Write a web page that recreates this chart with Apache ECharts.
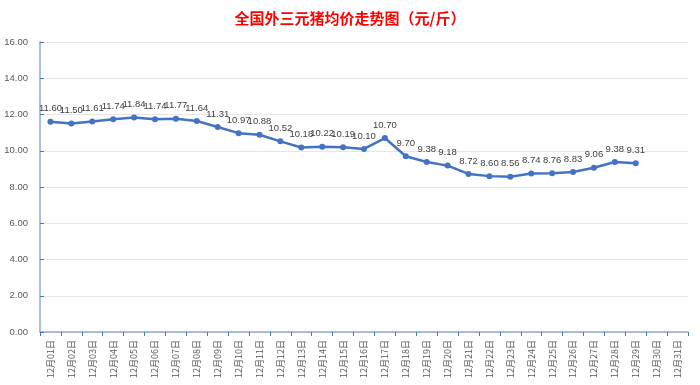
<!DOCTYPE html>
<html><head><meta charset="utf-8">
<script src="https://cdn.jsdelivr.net/npm/echarts@6/dist/echarts.min.js"></script>
<style>html,body{margin:0;padding:0;background:#fff}#c{width:700px;height:385px}</style>
</head><body><div id="c"></div>
<script>
const categories = ['12月01日','12月02日','12月03日','12月04日','12月05日','12月06日','12月07日','12月08日','12月09日','12月10日','12月11日','12月12日','12月13日','12月14日','12月15日','12月16日','12月17日','12月18日','12月19日','12月20日','12月21日','12月22日','12月23日','12月24日','12月25日','12月26日','12月27日','12月28日','12月29日','12月30日','12月31日'];
const prices = [11.60,11.50,11.61,11.74,11.84,11.74,11.77,11.64,11.31,10.97,10.88,10.52,10.18,10.22,10.19,10.10,10.70,9.70,9.38,9.18,8.72,8.60,8.56,8.74,8.76,8.83,9.06,9.38,9.31,null,null];
const titleText = '全国外三元猪均价走势图（元/斤）';
const chart = echarts.init(document.getElementById('c'));
chart.setOption({
  animation:false,
  title:{text:titleText,left:'center',top:6,textStyle:{color:'#FF0000',fontSize:15,fontWeight:'bold',fontFamily:'Noto Sans CJK SC'}},
  grid:{left:40,right:12,top:42,bottom:53,containLabel:false},
  xAxis:{type:'category',data:categories,boundaryGap:true,
    axisLine:{lineStyle:{color:'#8EA9DB',width:1.5}},
    axisTick:{show:true,lineStyle:{color:'#4472C4'},length:4},
    axisLabel:{rotate:90,color:'#595959',fontSize:9,fontFamily:'Noto Sans CJK SC',interval:0,margin:8}},
  yAxis:{type:'value',min:0,max:16,interval:2,
    axisLine:{show:true,lineStyle:{color:'#8EA9DB',width:1.5}},
    axisTick:{show:true,inside:true,length:4,lineStyle:{color:'#4472C4'}},
    splitLine:{lineStyle:{color:'#E6E6E6'}},
    axisLabel:{color:'#595959',fontSize:9.5,margin:12,formatter:v=>v.toFixed(2)}},
  series:[{type:'line',data:prices,symbol:'circle',symbolSize:6,connectNulls:false,
    lineStyle:{color:'#4472C4',width:2.5},itemStyle:{color:'#4472C4'},
    label:{show:true,position:'top',color:'#404040',fontSize:9.5,distance:5,formatter:p=>p.value==null?'':p.value.toFixed(2)}}]
});
</script></body></html>
